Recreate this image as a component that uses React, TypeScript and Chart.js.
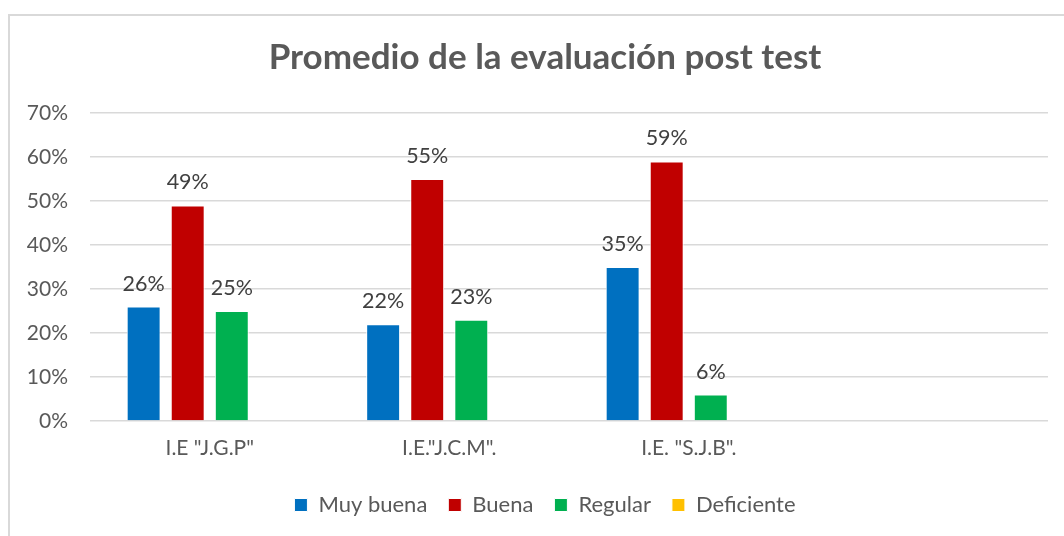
import React, { useEffect, useRef } from "react";
import { Chart, registerables } from "chart.js";

Chart.register(...registerables);

const categories = ['I.E "J.G.P"', 'I.E."J.C.M".', 'I.E. "S.J.B".', ""];
const muyBuena = [26, 22, 35, null];
const buena = [49, 55, 59, null];
const regular = [25, 23, 6, null];
const deficiente = [null, null, null, null];
const yTicks = [0, 10, 20, 30, 40, 50, 60, 70];
const title = "Promedio de la evaluación post test";

const FONT = "Lato, 'Open Sans', sans-serif";

const dataLabels = {
  id: "dataLabels",
  afterDatasetsDraw(chart: any) {
    const ctx = chart.ctx;
    ctx.save();
    ctx.font = `21.5px ${FONT}`;
    ctx.fillStyle = "#404040";
    ctx.textAlign = "center";
    ctx.textBaseline = "middle";
    chart.data.datasets.forEach((ds: any, i: number) => {
      const meta = chart.getDatasetMeta(i);
      meta.data.forEach((bar: any, j: number) => {
        const v = ds.data[j];
        if (v === null || v === undefined) return;
        ctx.fillText(`${v}%`, bar.x, bar.y - 23);
      });
    });
    ctx.restore();
  },
};

// shift title and legend so they are centred like the reference
const shiftBlocks = {
  id: "shiftBlocks",
  afterLayout(chart: any) {
    const dx = 21;
    [chart.titleBlock, chart.legend].forEach((b: any) => {
      if (!b) return;
      b.left += dx;
      b.right += dx;
    });
  },
};

export default function App() {
  const ref = useRef<HTMLCanvasElement>(null);
  useEffect(() => {
    if (!ref.current) return;
    const mk = (label: string, data: any[], color: string) => ({
      label,
      data,
      backgroundColor: color,
      borderColor: "#ffffff",
      borderWidth: 1,
      categoryPercentage: 0.736,
      barPercentage: 0.77,
    });
    const chart = new Chart(ref.current, {
      type: "bar",
      data: {
        labels: categories,
        datasets: [
          mk("Muy buena", muyBuena, "#0070C0"),
          mk("Buena", buena, "#C00000"),
          mk("Regular", regular, "#00B050"),
          mk("Deficiente", deficiente, "#FFC000"),
        ],
      },
      options: {
        animation: false,
        responsive: false,
        maintainAspectRatio: false,
        layout: { padding: { left: 0, right: 16, top: 0, bottom: 10 } },
        plugins: {
          title: {
            display: true,
            text: title,
            color: "#595959",
            font: { family: FONT, size: 35, weight: "bold" },
            padding: { top: 37, bottom: 34 },
          },
          legend: {
            position: "bottom",
            labels: {
              color: "#595959",
              font: { family: FONT, size: 22 },
              boxWidth: 13,
              boxHeight: 13,
              padding: 21,
            },
          },
          tooltip: { enabled: false },
        },
        scales: {
          x: {
            grid: { display: false },
            border: { display: false },
            ticks: { color: "#595959", font: { family: FONT, size: 21 }, padding: 7 },
            afterFit: (s: any) => {
              s.height = 52;
            },
          },
          y: {
            min: 0,
            max: 70,
            afterBuildTicks: (s: any) => {
              s.ticks = yTicks.map((v) => ({ value: v }));
            },
            grid: { color: "#d9d9d9", lineWidth: 1.5, drawTicks: false },
            border: { display: false },
            ticks: {
              color: "#595959",
              font: { family: FONT, size: 21 },
              padding: 22,
              callback: (v: any) => `${v}%`,
            },
            afterFit: (s: any) => {
              s.width = 90;
            },
          },
        },
      },
      plugins: [dataLabels, shiftBlocks],
    });
    return () => chart.destroy();
  }, []);
  return (
    <div style={{ position: "absolute", left: 0, top: 0, width: 1064, height: 536, background: "#fff" }}>
      <div
        style={{
          position: "absolute",
          left: 8,
          top: 14,
          width: 1100,
          height: 600,
          borderLeft: "2px solid #d9d9d9",
          borderTop: "2px solid #d9d9d9",
        }}
      />
      <canvas ref={ref} width={1064} height={536} style={{ position: "absolute", left: 0, top: 0 }} />
    </div>
  );
}
